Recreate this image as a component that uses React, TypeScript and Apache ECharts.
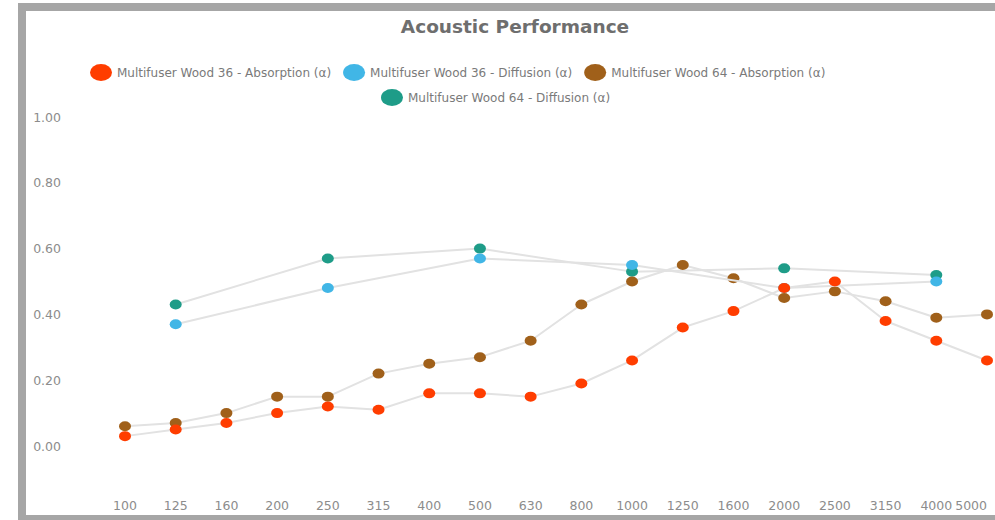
import React, { useEffect, useRef } from "react";
import * as echarts from "echarts";

const frequencies = ["100", "125", "160", "200", "250", "315", "400", "500", "630", "800", "1000", "1250", "1600", "2000", "2500", "3150", "4000", "5000"];

const wood36Absorption = [0.03, 0.05, 0.07, 0.10, 0.12, 0.11, 0.16, 0.16, 0.15, 0.19, 0.26, 0.36, 0.41, 0.48, 0.50, 0.38, 0.32, 0.26];
const wood36Diffusion = [null, 0.37, null, null, 0.48, null, null, 0.57, null, null, 0.55, null, null, 0.48, null, null, 0.50, null];
const wood64Absorption = [0.06, 0.07, 0.10, 0.15, 0.15, 0.22, 0.25, 0.27, 0.32, 0.43, 0.50, 0.55, 0.51, 0.45, 0.47, 0.44, 0.39, 0.40];
const wood64Diffusion = [null, 0.43, null, null, 0.57, null, null, 0.60, null, null, 0.53, null, null, 0.54, null, null, 0.52, null];

const seriesNames = [
  "Multifuser Wood 36 - Absorption (α)",
  "Multifuser Wood 36 - Diffusion (α)",
  "Multifuser Wood 64 - Absorption (α)",
  "Multifuser Wood 64 - Diffusion (α)",
];
const seriesColors = ["#FF3D00", "#41B6E6", "#A0601A", "#1E9C88"];
const legendTextWidths = [252, 238, 252, 238];

const ELLIPSE = "path://M0,50 A50,50 0 1,1 100,50 A50,50 0 1,1 0,50 Z";

export default function App() {
  const ref = useRef<HTMLDivElement>(null);

  useEffect(() => {
    if (!ref.current) return;
    const chart = echarts.init(ref.current, null, { renderer: "svg" });
    const values = [wood36Absorption, wood36Diffusion, wood64Absorption, wood64Diffusion];
    const zs = [6, 5, 4, 3];
    const legendItem = (i: number) => ({
      name: seriesNames[i],
      icon: ELLIPSE,
      itemStyle: { color: seriesColors[i] },
      textStyle: { width: legendTextWidths[i] },
    });
    const legendCommon = {
      orient: "horizontal",
      padding: 0,
      itemWidth: 22,
      itemHeight: 17,
      itemGap: 12,
      symbolKeepAspect: false,
      selectedMode: false,
      textStyle: { fontFamily: "DejaVu Sans", fontSize: 12, color: "#7a7a7a" },
    };
    chart.setOption({
      animation: false,
      title: {
        text: "Acoustic Performance",
        left: 515,
        top: 17,
        padding: 0,
        textAlign: "center",
        textStyle: { fontFamily: "DejaVu Sans", fontWeight: "bold", fontSize: 18.5, color: "#6e6e6e" },
      },
      legend: [
        { ...legendCommon, left: 90, top: 64, data: [legendItem(0), legendItem(1), legendItem(2)] },
        { ...legendCommon, left: 381, top: 89, data: [legendItem(3)] },
      ],
      grid: { left: 125, right: 8, top: 117, bottom: 74, containLabel: false, outerBoundsMode: "none" },
      xAxis: {
        type: "category",
        data: frequencies,
        boundaryGap: false,
        axisLine: { show: false },
        axisTick: { show: false },
        splitLine: { show: false },
        axisLabel: {
          margin: 53,
          fontFamily: "DejaVu Sans",
          fontSize: 12.5,
          color: "#8c8c8c",
          interval: 0,
          alignMaxLabel: "right",
        },
      },
      yAxis: {
        type: "value",
        min: 0,
        max: 1,
        interval: 0.2,
        axisLine: { show: false },
        axisTick: { show: false },
        splitLine: { show: false },
        axisLabel: {
          margin: 64,
          fontFamily: "DejaVu Sans",
          fontSize: 12.5,
          color: "#8c8c8c",
          formatter: (v: number) => v.toFixed(2),
        },
      },
      series: values.map((data, i) => ({
        name: seriesNames[i],
        type: "line",
        data,
        z: zs[i],
        connectNulls: true,
        symbol: ELLIPSE,
        symbolSize: [12, 10],
        symbolKeepAspect: false,
        showAllSymbol: true,
        lineStyle: { color: "#e2e2e2", width: 2 },
        itemStyle: { color: seriesColors[i], borderWidth: 0 },
        emphasis: { disabled: true },
      })),
    });
    return () => chart.dispose();
  }, []);

  return (
    <div style={{ position: "fixed", left: 0, top: 0, width: 995, height: 520, overflow: "hidden", background: "#fff" }}>
      <div
        style={{
          position: "absolute",
          left: 18,
          top: 3,
          width: 1100,
          height: 504,
          border: "8px solid #a6a6a6",
          background: "#fff",
        }}
      />
      <div ref={ref} style={{ position: "absolute", left: 0, top: 0, width: 995, height: 520 }} />
    </div>
  );
}
